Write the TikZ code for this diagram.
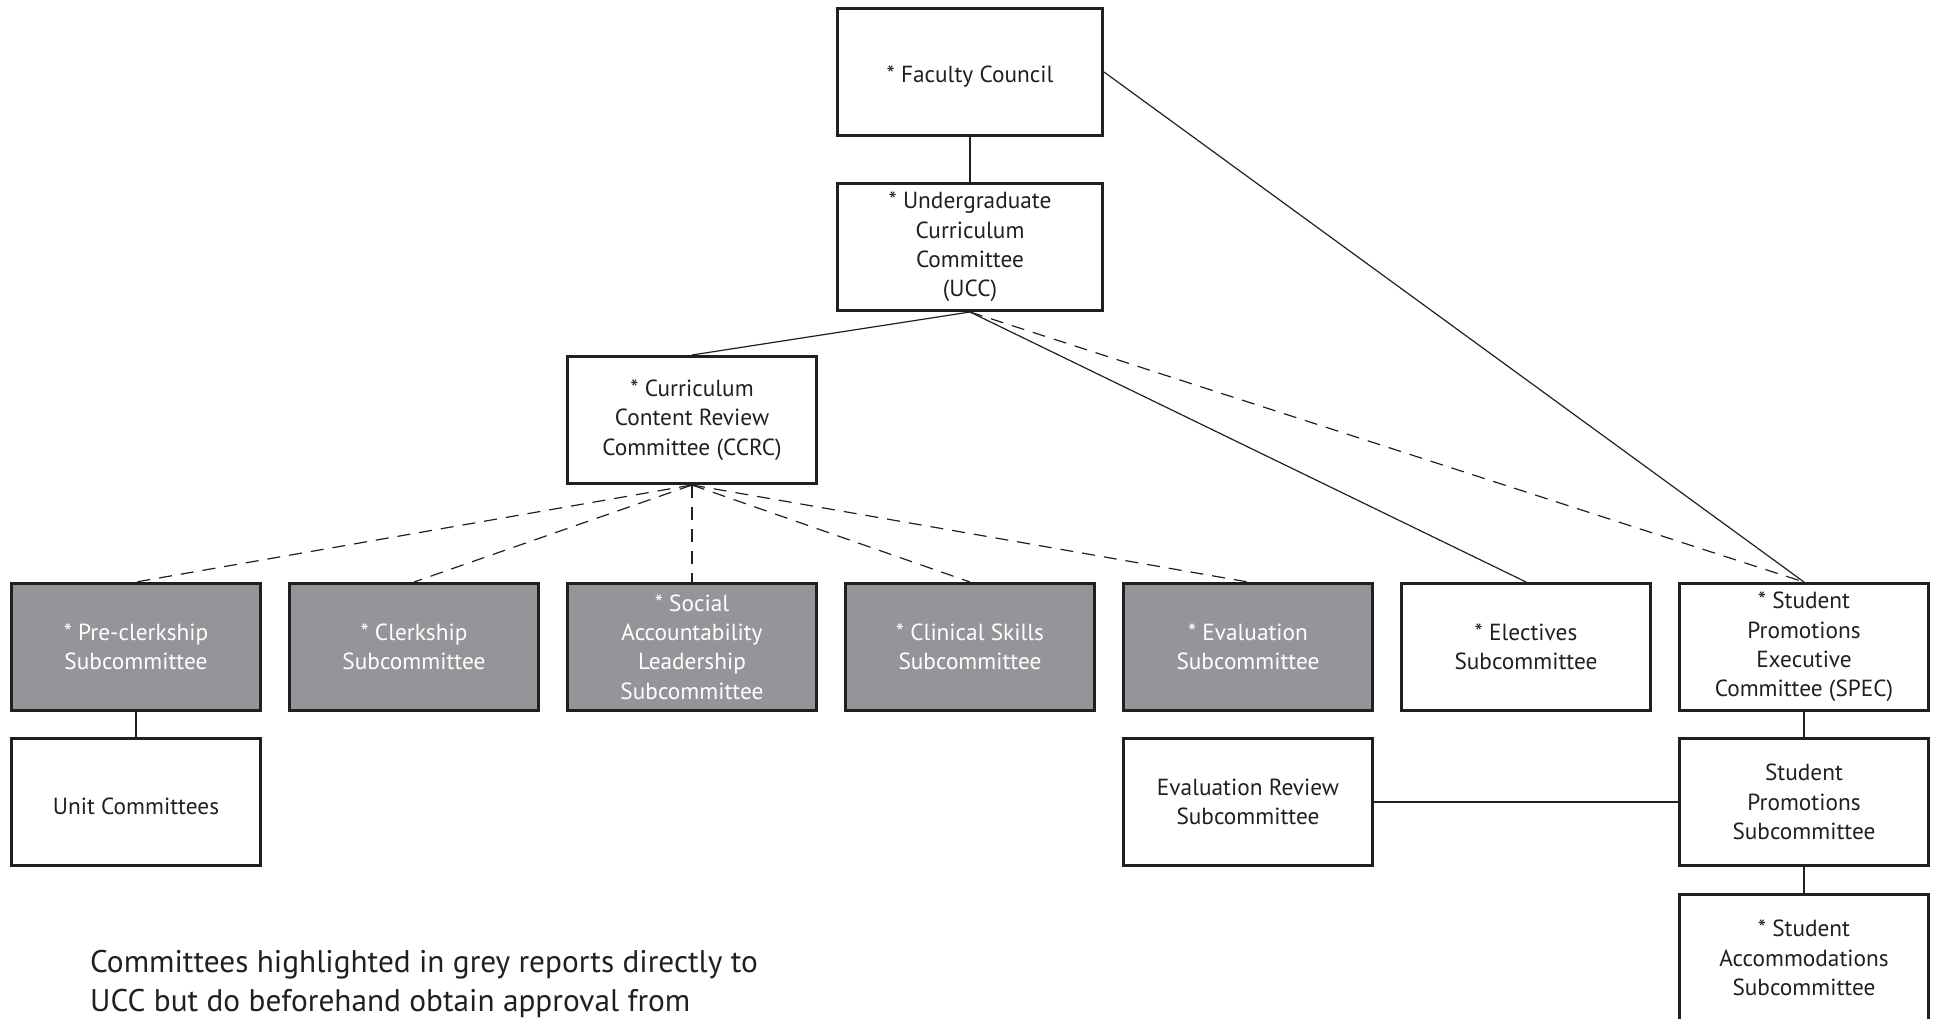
\documentclass[tikz,border=0pt]{standalone}
\usepackage{fontspec}
\setmainfont{PT Sans}
\begin{document}
\begin{tikzpicture}[x=1pt,y=-1pt,
  box/.style={draw=inkc, line width=3pt, fill=white, minimum width=249pt, minimum height=127pt,
    align=center, text=inkc, inner sep=0pt, font=\fontsize{23.3}{29.3}\selectfont,
    execute at begin node={\rule{0pt}{26pt}}},
  greybox/.style={box, fill=greyc, text=white},
  link/.style={draw=inkc, line width=1.2pt},
  dlink/.style={link, dash pattern=on 13pt off 9pt}]
\definecolor{inkc}{HTML}{231F20}
\definecolor{greyc}{HTML}{939598}
\useasboundingbox (0,0) rectangle (1939,1019);
\clip (0,0) rectangle (1939,1019);
% top
\node[box, minimum width=265pt] (fc) at (970,72) {* Faculty Council};
\node[box, minimum width=265pt] (ucc) at (970,247) {* Undergraduate\\Curriculum\\Committee\\(UCC)};
\node[box] (ccrc) at (692,420) {* Curriculum\\Content Review\\Committee (CCRC)};
% row
\node[greybox] (pre) at (136,647) {* Pre-clerkship\\Subcommittee};
\node[greybox] (clk) at (414,647) {* Clerkship\\Subcommittee};
\node[greybox] (soc) at (692,647) {* Social\\Accountability\\Leadership\\Subcommittee};
\node[greybox] (cli) at (970,647) {* Clinical Skills\\Subcommittee};
\node[greybox] (eva) at (1248,647) {* Evaluation\\Subcommittee};
\node[box] (ele) at (1526,647) {* Electives\\Subcommittee};
\node[box] (spec) at (1804,647) {* Student\\Promotions\\Executive\\Committee (SPEC)};
% lower
\node[box] (unit) at (136,802) {Unit Committees};
\node[box] (erev) at (1248,802) {Evaluation Review\\Subcommittee};
\node[box] (sp) at (1804,802) {Student\\Promotions\\Subcommittee};
\node[box] (sa) at (1804,958) {* Student\\Accommodations\\Subcommittee};
% connectors
\draw[link] (fc.south) -- (ucc.north);
\draw[link] (fc.east) -- (spec.north);
\draw[link] (ucc.south) -- (ccrc.north);
\draw[link] (ucc.south) -- (ele.north);
\draw[dlink] (ucc.south) -- (spec.north);
\foreach \t in {pre,clk,soc,cli,eva} \draw[dlink] (ccrc.south) -- (\t.north);
\draw[link] (pre.south) -- (unit.north);
\draw[link] (spec.south) -- (sp.north);
\draw[link] (sp.south) -- (sa.north);
\draw[link] (erev.east) -- (sp.west);
% note
\node[anchor=base west, align=left, inner sep=0pt, text=inkc, font=\fontsize{31.3}{38.5}\selectfont] (note) at (90,1011)
  {Committees highlighted in grey reports directly to\\UCC but do beforehand obtain approval from};
\end{tikzpicture}
\end{document}
